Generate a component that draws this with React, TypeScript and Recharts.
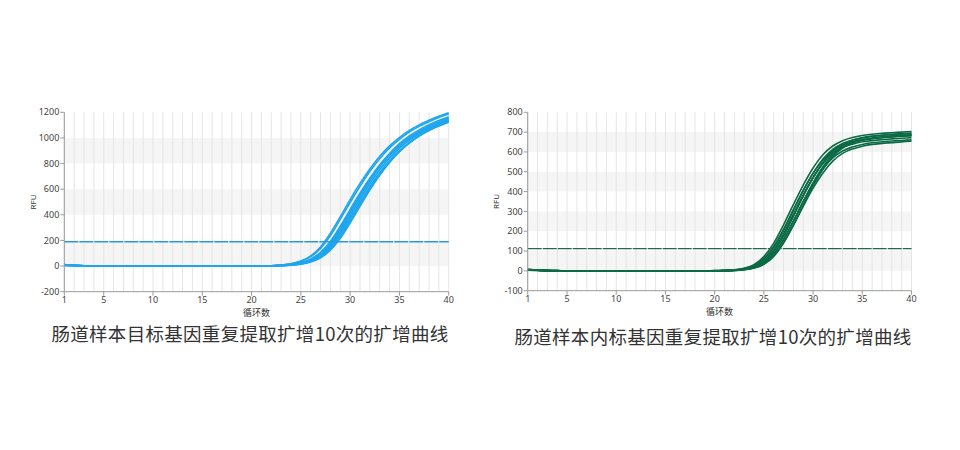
import React from 'react';
import { LineChart, Line, XAxis, YAxis, ReferenceLine, ReferenceArea } from 'recharts';

const cycles = [1, 2, 3, 4, 5, 6, 7, 8, 9, 10, 11, 12, 13, 14, 15, 16, 17, 18, 19, 20, 21, 22, 23, 24, 25, 26, 27, 28, 29, 30, 31, 32, 33, 34, 35, 36, 37, 38, 39, 40];
const xTicks = [1, 5, 10, 15, 20, 25, 30, 35, 40];

// ---- Left chart: target gene (blue) ----
const leftTitle = '肠道样本目标基因重复提取扩增10次的扩增曲线';
const leftYTicks = [-200, 0, 200, 400, 600, 800, 1000, 1200];
const leftBands = [[800, 1000], [400, 600], [0, 200]];
const leftThreshold = 190;

const leftA = [12, 7, 3, 1, 0, 0, 0, 0, 0, 0, 0, -1, -1, -1, -1, -1, -1, -1, 0, 0, 1, 3, 8, 18, 39, 80, 149, 256, 385, 519, 645, 758, 857, 938, 1003, 1058, 1102, 1138, 1170, 1197];
const leftB = [9, 5, 2, 1, 1, 0, 0, 0, 0, 0, 0, 0, -1, -1, -1, -1, -1, 0, 0, 1, 2, 3, 8, 17, 36, 73, 138, 238, 364, 496, 623, 738, 838, 922, 989, 1045, 1090, 1127, 1159, 1187];
const leftC = [7, 4, 2, 1, 0, 0, 0, 0, 0, 0, 0, 0, 0, -1, -1, -1, -1, -1, 0, 0, 1, 2, 6, 12, 27, 56, 108, 193, 311, 441, 569, 686, 790, 878, 955, 1015, 1063, 1103, 1136, 1166];
const leftD = [11, 6, 2, 0, 0, 0, 0, 0, 0, 0, -1, -1, -1, -1, -1, -2, -2, -1, -1, 0, 1, 2, 5, 11, 24, 51, 100, 181, 297, 426, 554, 673, 777, 866, 938, 997, 1046, 1085, 1117, 1146];
const leftE = [5, 3, 1, 1, 0, 0, 0, 0, 0, 0, 0, 0, 0, 0, 0, -1, -1, -1, -1, 0, 0, 2, 4, 10, 22, 47, 92, 171, 286, 417, 548, 668, 776, 867, 942, 1002, 1052, 1092, 1126, 1156];
const leftF = [8, 4, 2, 1, 0, 0, 0, 0, 0, 0, 0, 0, -1, -1, -1, -1, -1, -1, 0, 0, 1, 2, 4, 9, 21, 44, 87, 161, 271, 398, 528, 646, 753, 845, 921, 981, 1032, 1072, 1106, 1136];
const leftG = [10, 6, 3, 1, 1, 0, 0, 0, 0, 0, 0, 0, 0, -1, -1, -1, -1, -1, -1, 0, 0, 1, 4, 9, 20, 42, 83, 154, 262, 389, 519, 641, 751, 845, 922, 985, 1037, 1079, 1113, 1144];
const leftH = [6, 3, 1, 0, 0, 0, 0, 0, 0, 0, 0, -1, -1, -1, -1, -1, -2, -1, -1, 0, 0, 1, 4, 8, 18, 39, 77, 144, 247, 370, 498, 620, 729, 823, 901, 964, 1017, 1059, 1093, 1124];
const leftI = [4, 2, 1, 0, 0, 0, 0, 0, 0, 0, 0, 0, 0, 0, -1, -1, -1, -1, 0, 0, 0, 1, 3, 7, 16, 35, 71, 134, 231, 353, 482, 605, 717, 814, 895, 960, 1014, 1058, 1094, 1125];
const leftJ = [9, 5, 2, 1, 0, 0, 0, 0, 0, 0, 0, 0, 0, -1, -1, -1, -1, -1, -1, 0, 0, 1, 3, 7, 15, 32, 65, 123, 216, 337, 467, 593, 708, 808, 893, 961, 1017, 1063, 1100, 1132];
const leftSeries = [leftA, leftB, leftC, leftD, leftE, leftF, leftG, leftH, leftI, leftJ];

// ---- Right chart: internal control (green) ----
const rightTitle = '肠道样本内标基因重复提取扩增10次的扩增曲线';
const rightYTicks = [-100, 0, 100, 200, 300, 400, 500, 600, 700, 800];
const rightBands = [[600, 700], [400, 500], [200, 300], [0, 100]];
const rightThreshold = 112;

const rightA = [7, 4, 2, 1, 0, 0, 0, 0, 0, 0, 0, 0, 0, 0, 0, 0, 0, 0, 0, 1, 2, 5, 13, 31, 72, 140, 232, 335, 433, 519, 586, 630, 657, 673, 683, 689, 694, 697, 700, 703];
const rightB = [5, 3, 1, 0, 0, 0, 0, 0, 0, 0, 0, 0, 0, 0, 0, 0, -1, -1, 0, 0, 1, 4, 12, 28, 62, 124, 210, 310, 407, 493, 561, 608, 635, 652, 662, 668, 673, 677, 680, 683];
const rightC = [6, 3, 1, 1, 0, 0, 0, 0, 0, 0, 0, 0, 0, 0, 0, 0, 0, 0, 0, 1, 1, 4, 10, 25, 57, 118, 203, 305, 404, 492, 564, 613, 643, 660, 671, 678, 683, 687, 690, 693];
const rightD = [4, 2, 1, 0, 0, 0, 0, 0, 0, 0, 0, 0, 0, 0, 0, -1, -1, -1, 0, 0, 1, 3, 9, 22, 50, 106, 187, 286, 383, 470, 542, 592, 622, 639, 651, 657, 662, 666, 669, 672];
const rightE = [8, 4, 2, 1, 0, 0, 0, 0, 0, 0, 0, 0, 0, 0, 0, 0, 0, 0, 0, 0, 1, 3, 8, 20, 45, 100, 180, 280, 380, 470, 545, 598, 630, 648, 660, 667, 672, 676, 679, 682];
const rightF = [5, 3, 1, 0, 0, 0, 0, 0, 0, 0, 0, 0, 0, 0, 0, 0, 0, -1, 0, 0, 1, 3, 8, 19, 43, 96, 175, 275, 377, 470, 548, 605, 639, 659, 672, 680, 685, 689, 692, 695];
const rightG = [6, 3, 1, 0, 0, 0, 0, 0, 0, 0, 0, 0, 0, 0, 0, 0, -1, -1, 0, 0, 1, 3, 7, 17, 39, 86, 159, 252, 349, 438, 514, 570, 605, 625, 638, 646, 651, 655, 658, 661];
const rightH = [3, 2, 1, 0, 0, 0, 0, 0, 0, 0, 0, 0, 0, 0, 0, 0, 0, 0, 0, 0, 1, 2, 7, 16, 38, 84, 157, 251, 352, 445, 525, 585, 624, 646, 660, 668, 674, 678, 681, 685];
const rightI = [5, 3, 1, 0, 0, 0, 0, 0, 0, 0, 0, 0, 0, 0, 0, 0, 0, 0, 0, 0, 1, 2, 6, 15, 34, 75, 142, 230, 326, 417, 494, 554, 593, 615, 629, 638, 643, 647, 651, 654];
const rightJ = [7, 4, 2, 1, 0, 0, 0, 0, 0, 0, 0, 0, 0, 0, 0, 0, -1, 0, 0, 0, 0, 2, 6, 14, 33, 73, 141, 232, 333, 429, 513, 577, 620, 645, 661, 670, 676, 681, 684, 687];
const rightSeries = [rightA, rightB, rightC, rightD, rightE, rightF, rightG, rightH, rightI, rightJ];

const buildRows = (series: number[][]) =>
  cycles.map((c, i) => {
    const row: Record<string, number> = { cycle: c };
    series.forEach((s, k) => {
      row['s' + k] = s[i];
    });
    return row;
  });

const tickStyle = { fontSize: 9, fill: '#444', fontFamily: '"Noto Sans", "Open Sans", sans-serif' };

type ChartProps = {
  left: number;
  top: number;
  width: number;
  height: number;
  margin: { top: number; right: number; bottom: number; left: number };
  yAxisWidth: number;
  labelOffset: number;
  series: number[][];
  color: string;
  thresholdColor: string;
  threshold: number;
  yDomain: [number, number];
  yTicks: number[];
  bands: number[][];
};

function QpcrChart(p: ChartProps) {
  const rows = buildRows(p.series);
  return (
    <div style={{ position: 'absolute', left: p.left, top: p.top }}>
      <LineChart width={p.width} height={p.height} data={rows} margin={p.margin}>
        {p.bands.map(([a, b]) => (
          <ReferenceArea key={'b' + a} y1={a} y2={b} fill="#f5f5f5" fillOpacity={1} stroke="none" />
        ))}
        {cycles.map((c) => (
          <ReferenceLine key={'v' + c} x={c} stroke="#e5e5e5" strokeWidth={1} />
        ))}
        <XAxis
          dataKey="cycle"
          type="number"
          domain={[1, 40]}
          ticks={xTicks}
          interval={0}
          tickSize={4}
          tickMargin={1}
          tick={tickStyle}
          stroke="#9a9a9a"
          height={30}
          label={{ value: '循环数', position: 'insideBottom', offset: 6, fontSize: 9, fill: '#333', fontFamily: '"Noto Sans CJK SC", sans-serif' }}
        />
        <YAxis
          type="number"
          domain={p.yDomain}
          ticks={p.yTicks}
          interval={0}
          width={p.yAxisWidth}
          tickSize={4}
          tickMargin={1}
          tick={tickStyle}
          stroke="#9a9a9a"
          label={{ value: 'RFU', angle: -90, position: 'insideLeft', offset: p.labelOffset, fontSize: 8, fill: '#333', style: { textAnchor: 'middle' }, fontFamily: '"Noto Sans", sans-serif' }}
        />
        {p.series.map((_, k) => (
          <Line
            key={'s' + k}
            dataKey={'s' + k}
            type="monotone"
            stroke={p.color}
            strokeWidth={1.6}
            dot={false}
            activeDot={false}
            isAnimationActive={false}
          />
        ))}
        <ReferenceLine y={p.threshold} stroke={p.thresholdColor} strokeWidth={1.4} strokeDasharray="14 1" />
      </LineChart>
    </div>
  );
}

const titleStyle: React.CSSProperties = {
  position: 'absolute',
  fontFamily: '"Noto Sans CJK SC", sans-serif',
  fontSize: 18.5,
  letterSpacing: 0.3,
  color: '#333',
  whiteSpace: 'nowrap',
  transform: 'translate(-50%, -50%)',
  lineHeight: 1,
};

export default function App() {
  return (
    <div style={{ position: 'absolute', left: 0, top: 0, width: 960, height: 450, background: '#fff', overflow: 'hidden' }}>
      <QpcrChart
        left={0}
        top={100}
        width={470}
        height={221.7}
        margin={{ top: 12.3, right: 21.3, bottom: 0, left: 28 }}
        yAxisWidth={36.3}
        labelOffset={5}
        series={leftSeries}
        color="#1ea6ee"
        thresholdColor="#2b9ad8"
        threshold={leftThreshold}
        yDomain={[-200, 1200]}
        yTicks={leftYTicks}
        bands={leftBands}
      />
      <QpcrChart
        left={480}
        top={100}
        width={460}
        height={220.7}
        margin={{ top: 12.3, right: 28.5, bottom: 0, left: 10 }}
        yAxisWidth={37.7}
        labelOffset={6}
        series={rightSeries}
        color="#0c6b46"
        thresholdColor="#1f6b4d"
        threshold={rightThreshold}
        yDomain={[-100, 800]}
        yTicks={rightYTicks}
        bands={rightBands}
      />
      <div style={{ ...titleStyle, left: 250, top: 333 }}>{leftTitle}</div>
      <div style={{ ...titleStyle, left: 713, top: 336 }}>{rightTitle}</div>
    </div>
  );
}
